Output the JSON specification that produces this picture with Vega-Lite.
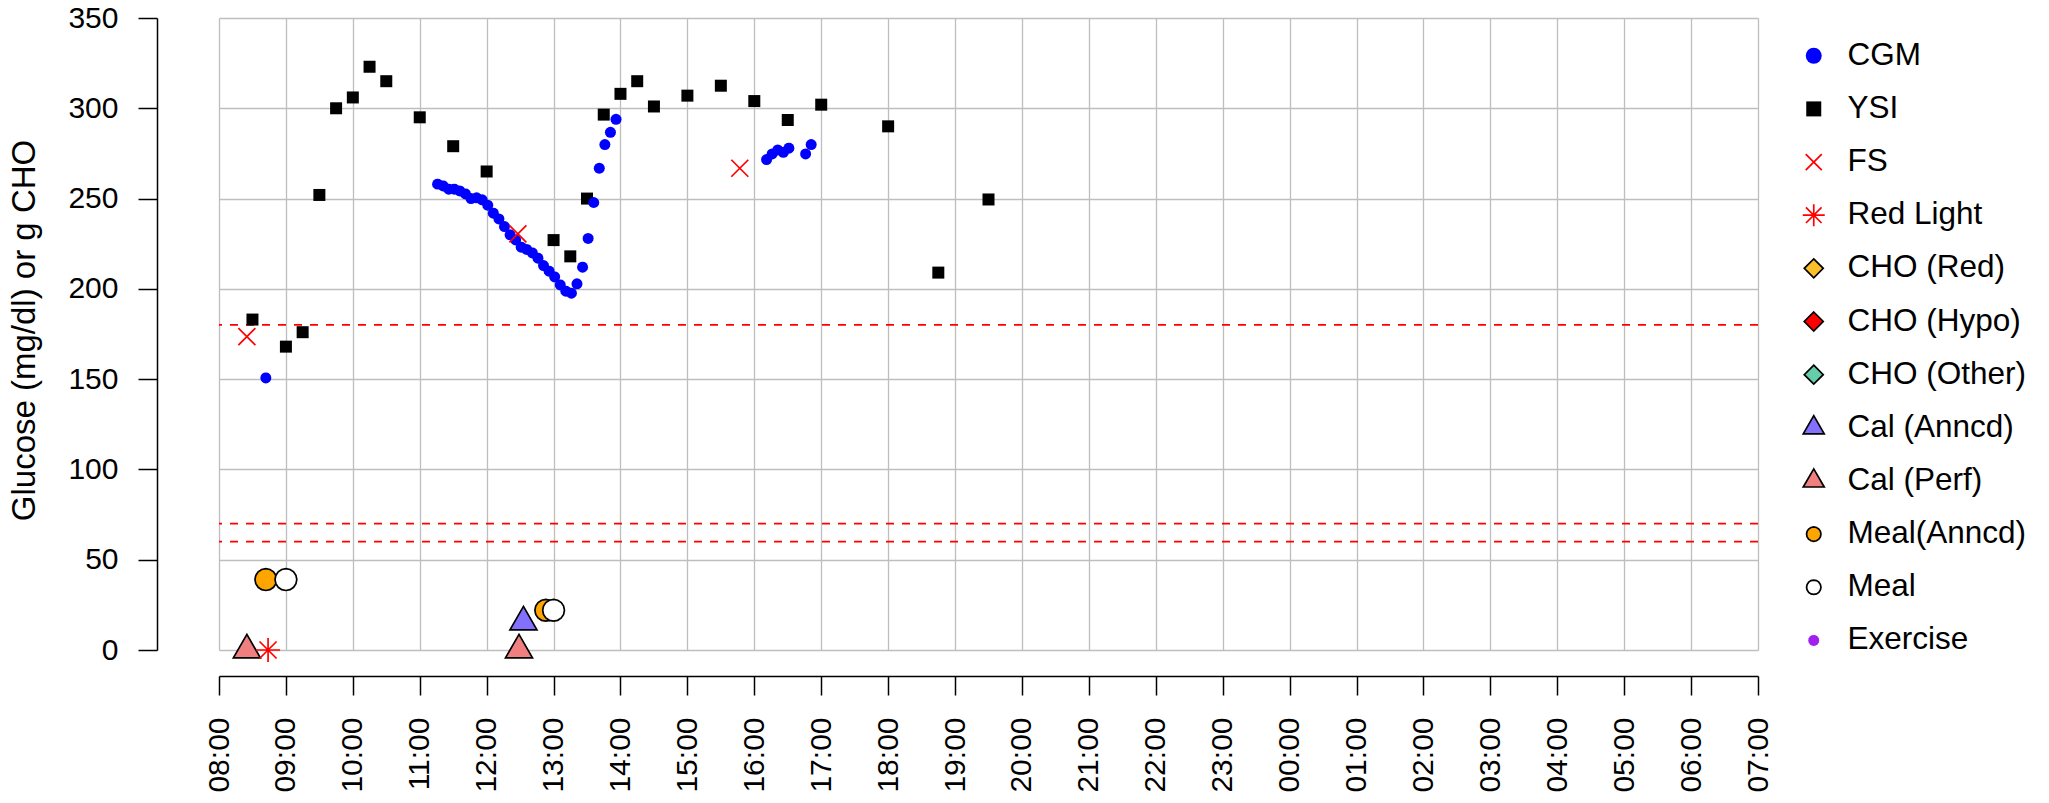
{
  "$schema": "https://vega.github.io/schema/vega-lite/v6.json",
  "width": 1539,
  "height": 632,
  "autosize": {"type": "none"},
  "padding": {"left": 219, "top": 18, "right": 291, "bottom": 153},
  "background": "white",
  "config": {
    "view": {"stroke": null},
    "font": "Liberation Sans",
    "legend": {"orient": "none", "legendX": 1579, "legendY": 22, "symbolSize": 400, "labelFontSize": 31.5, "labelColor": "black", "labelLimit": 0, "rowPadding": 20.15, "labelOffset": 18, "symbolStrokeWidth": 1.7}
  },
  "datasets": {
    "thr": [{"value": 180}, {"value": 70}, {"value": 60}],
    "obs": [
      {"series": "YSI", "time": "2020-01-01T08:30:00", "value": 183},
      {"series": "YSI", "time": "2020-01-01T09:00:00", "value": 168},
      {"series": "YSI", "time": "2020-01-01T09:15:00", "value": 176},
      {"series": "YSI", "time": "2020-01-01T09:30:00", "value": 252},
      {"series": "YSI", "time": "2020-01-01T09:45:00", "value": 300},
      {"series": "YSI", "time": "2020-01-01T10:00:00", "value": 306},
      {"series": "YSI", "time": "2020-01-01T10:15:00", "value": 323},
      {"series": "YSI", "time": "2020-01-01T10:30:00", "value": 315},
      {"series": "YSI", "time": "2020-01-01T11:00:00", "value": 295},
      {"series": "YSI", "time": "2020-01-01T11:30:00", "value": 279},
      {"series": "YSI", "time": "2020-01-01T12:00:00", "value": 265},
      {"series": "YSI", "time": "2020-01-01T13:00:00", "value": 227},
      {"series": "YSI", "time": "2020-01-01T13:15:00", "value": 218},
      {"series": "YSI", "time": "2020-01-01T13:30:00", "value": 250},
      {"series": "YSI", "time": "2020-01-01T13:45:00", "value": 296.5},
      {"series": "YSI", "time": "2020-01-01T14:00:00", "value": 308},
      {"series": "YSI", "time": "2020-01-01T14:15:00", "value": 315},
      {"series": "YSI", "time": "2020-01-01T14:30:00", "value": 301},
      {"series": "YSI", "time": "2020-01-01T15:00:00", "value": 307},
      {"series": "YSI", "time": "2020-01-01T15:30:00", "value": 312.5},
      {"series": "YSI", "time": "2020-01-01T16:00:00", "value": 304},
      {"series": "YSI", "time": "2020-01-01T16:30:00", "value": 293.5},
      {"series": "YSI", "time": "2020-01-01T17:00:00", "value": 302},
      {"series": "YSI", "time": "2020-01-01T18:00:00", "value": 290},
      {"series": "YSI", "time": "2020-01-01T18:45:00", "value": 209},
      {"series": "YSI", "time": "2020-01-01T19:30:00", "value": 249.5},
      {"series": "CGM", "time": "2020-01-01T08:42:00", "value": 150.7},
      {"series": "CGM", "time": "2020-01-01T11:16:00", "value": 258},
      {"series": "CGM", "time": "2020-01-01T11:21:00", "value": 257},
      {"series": "CGM", "time": "2020-01-01T11:26:00", "value": 255.2},
      {"series": "CGM", "time": "2020-01-01T11:31:00", "value": 255.2},
      {"series": "CGM", "time": "2020-01-01T11:36:00", "value": 254.2},
      {"series": "CGM", "time": "2020-01-01T11:41:00", "value": 252.6},
      {"series": "CGM", "time": "2020-01-01T11:46:00", "value": 250},
      {"series": "CGM", "time": "2020-01-01T11:51:00", "value": 250.4},
      {"series": "CGM", "time": "2020-01-01T11:56:00", "value": 249.3},
      {"series": "CGM", "time": "2020-01-01T12:01:00", "value": 246.3},
      {"series": "CGM", "time": "2020-01-01T12:06:00", "value": 241.9},
      {"series": "CGM", "time": "2020-01-01T12:11:00", "value": 238.7},
      {"series": "CGM", "time": "2020-01-01T12:16:00", "value": 234.5},
      {"series": "CGM", "time": "2020-01-01T12:21:00", "value": 229.9},
      {"series": "CGM", "time": "2020-01-01T12:26:00", "value": 227.1},
      {"series": "CGM", "time": "2020-01-01T12:31:00", "value": 223.1},
      {"series": "CGM", "time": "2020-01-01T12:36:00", "value": 221.8},
      {"series": "CGM", "time": "2020-01-01T12:41:00", "value": 219.9},
      {"series": "CGM", "time": "2020-01-01T12:46:00", "value": 217},
      {"series": "CGM", "time": "2020-01-01T12:51:00", "value": 212.9},
      {"series": "CGM", "time": "2020-01-01T12:56:00", "value": 209.8},
      {"series": "CGM", "time": "2020-01-01T13:01:00", "value": 206.6},
      {"series": "CGM", "time": "2020-01-01T13:06:00", "value": 202.2},
      {"series": "CGM", "time": "2020-01-01T13:11:00", "value": 198.7},
      {"series": "CGM", "time": "2020-01-01T13:16:00", "value": 197.6},
      {"series": "CGM", "time": "2020-01-01T13:21:00", "value": 202.8},
      {"series": "CGM", "time": "2020-01-01T13:26:00", "value": 212},
      {"series": "CGM", "time": "2020-01-01T13:31:00", "value": 227.9},
      {"series": "CGM", "time": "2020-01-01T13:36:00", "value": 247.8},
      {"series": "CGM", "time": "2020-01-01T13:41:00", "value": 266.8},
      {"series": "CGM", "time": "2020-01-01T13:46:00", "value": 279.9},
      {"series": "CGM", "time": "2020-01-01T13:51:00", "value": 286.7},
      {"series": "CGM", "time": "2020-01-01T13:56:00", "value": 293.9},
      {"series": "CGM", "time": "2020-01-01T16:11:00", "value": 271.6},
      {"series": "CGM", "time": "2020-01-01T16:16:00", "value": 274.7},
      {"series": "CGM", "time": "2020-01-01T16:21:00", "value": 276.9},
      {"series": "CGM", "time": "2020-01-01T16:26:00", "value": 275.6},
      {"series": "CGM", "time": "2020-01-01T16:31:00", "value": 277.9},
      {"series": "CGM", "time": "2020-01-01T16:46:00", "value": 274.7},
      {"series": "CGM", "time": "2020-01-01T16:51:00", "value": 279.9},
      {"series": "FS", "time": "2020-01-01T08:25:00", "value": 173.6},
      {"series": "FS", "time": "2020-01-01T12:28:00", "value": 230.4},
      {"series": "FS", "time": "2020-01-01T15:47:00", "value": 266.8},
      {"series": "Cal (Perf)", "time": "2020-01-01T08:25:00", "value": 0},
      {"series": "Cal (Perf)", "time": "2020-01-01T12:29:00", "value": 0},
      {"series": "Cal (Anncd)", "time": "2020-01-01T12:33:00", "value": 15.5},
      {"series": "Red Light", "time": "2020-01-01T08:44:00", "value": 0},
      {"series": "Meal(Anncd)", "time": "2020-01-01T08:42:00", "value": 39},
      {"series": "Meal(Anncd)", "time": "2020-01-01T12:53:00", "value": 22},
      {"series": "Meal", "time": "2020-01-01T09:00:00", "value": 39},
      {"series": "Meal", "time": "2020-01-01T13:00:00", "value": 22}
    ]
  },
  "layer": [
    {
      "data": {"name": "thr"},
      "mark": {"type": "rule", "color": "#FF0000", "strokeDash": [8, 8], "strokeWidth": 1.7},
      "encoding": {
        "y": {"field": "value", "type": "quantitative", "title": "Glucose (mg/dl) or g CHO"}
      }
    },
    {
      "data": {"name": "obs"},
      "encoding": {
        "x": {
          "field": "time", "type": "temporal", "title": null,
          "scale": {"domain": ["2020-01-01T08:00:00", "2020-01-02T07:00:00"], "nice": false},
          "axis": {
            "offset": 26, "tickSize": 19, "labelPadding": 22, "labelAngle": 270,
            "format": "%H:%M", "tickCount": 23,
            "labelFontSize": 30, "labelColor": "black", "labelFlush": false, "labelOverlap": false,
            "domainColor": "black", "domainWidth": 1.5, "tickColor": "black", "tickWidth": 1.5,
            "grid": true, "gridColor": "#BEBEBE", "gridWidth": 1.3
          }
        },
        "y": {
          "field": "value", "type": "quantitative", "title": "Glucose (mg/dl) or g CHO",
          "scale": {"domain": [0, 350], "nice": false, "zero": false},
          "axis": {
            "offset": 62, "tickSize": 19, "labelPadding": 20, "values": [0, 50, 100, 150, 200, 250, 300, 350],
            "labelFontSize": 30, "labelColor": "black", "labelFlush": false, "labelOverlap": false,
            "domainColor": "black", "domainWidth": 1.5, "tickColor": "black", "tickWidth": 1.5,
            "grid": true, "gridColor": "#BEBEBE", "gridWidth": 1.3,
            "titleFontSize": 33, "titleFontWeight": "normal", "titleColor": "black", "titlePadding": 26, "titleY": 312
          }
        },
        "shape": {
          "field": "series", "type": "nominal", "title": null,
          "scale": {
            "domain": ["CGM", "YSI", "FS", "Red Light", "CHO (Red)", "CHO (Hypo)", "CHO (Other)", "Cal (Anncd)", "Cal (Perf)", "Meal(Anncd)", "Meal", "Exercise"],
            "range": [
              "M0.8,0L0.739,0.306L0.566,0.566L0.306,0.739L0,0.8L-0.306,0.739L-0.566,0.566L-0.739,0.306L-0.8,0L-0.739,-0.306L-0.566,-0.566L-0.306,-0.739L0,-0.8L0.306,-0.739L0.566,-0.566L0.739,-0.306Z",
              "M-0.75,-0.75L0.75,-0.75L0.75,0.75L-0.75,0.75Z",
              "M-0.8,-0.8L0.8,0.8M-0.8,0.8L0.8,-0.8",
              "M-1.1,0L1.1,0M0,-1.1L0,1.1M-0.78,-0.78L0.78,0.78M-0.78,0.78L0.78,-0.78",
              "M0,-0.95L0.95,0L0,0.95L-0.95,0Z",
              "M0,-0.95L0.95,0L0,0.95L-0.95,0Z",
              "M0,-0.95L0.95,0L0,0.95L-0.95,0Z",
              "M0,-1.212L1.05,0.606L-1.05,0.606Z",
              "M0,-1.212L1.05,0.606L-1.05,0.606Z",
              "M0.72,0L0.665,0.276L0.509,0.509L0.276,0.665L0,0.72L-0.276,0.665L-0.509,0.509L-0.665,0.276L-0.72,0L-0.665,-0.276L-0.509,-0.509L-0.276,-0.665L0,-0.72L0.276,-0.665L0.509,-0.509L0.665,-0.276Z",
              "M0.72,0L0.665,0.276L0.509,0.509L0.276,0.665L0,0.72L-0.276,0.665L-0.509,0.509L-0.665,0.276L-0.72,0L-0.665,-0.276L-0.509,-0.509L-0.276,-0.665L0,-0.72L0.276,-0.665L0.509,-0.509L0.665,-0.276Z",
              "M0.55,0L0.508,0.21L0.389,0.389L0.21,0.508L0,0.55L-0.21,0.508L-0.389,0.389L-0.508,0.21L-0.55,0L-0.508,-0.21L-0.389,-0.389L-0.21,-0.508L0,-0.55L0.21,-0.508L0.389,-0.389L0.508,-0.21Z"
            ]
          }
        },
        "fill": {
          "field": "series", "type": "nominal", "title": null,
          "scale": {
            "domain": ["CGM", "YSI", "FS", "Red Light", "CHO (Red)", "CHO (Hypo)", "CHO (Other)", "Cal (Anncd)", "Cal (Perf)", "Meal(Anncd)", "Meal", "Exercise"],
            "range": ["#0000FF", "#000000", "transparent", "transparent", "#FBBF2A", "#FF0000", "#66CDAA", "#8470FF", "#F08080", "#FFA500", "#FFFFFF", "#A020F0"]
          }
        },
        "stroke": {
          "field": "series", "type": "nominal", "title": null,
          "scale": {
            "domain": ["CGM", "YSI", "FS", "Red Light", "CHO (Red)", "CHO (Hypo)", "CHO (Other)", "Cal (Anncd)", "Cal (Perf)", "Meal(Anncd)", "Meal", "Exercise"],
            "range": ["transparent", "transparent", "#FF0000", "#FF0000", "#000000", "#000000", "#000000", "#000000", "#000000", "#000000", "#000000", "transparent"]
          }
        }
      },
      "layer": [
        {"transform": [{"filter": "datum.series === 'YSI'"}], "mark": {"type": "point", "filled": true, "opacity": 1, "strokeWidth": 1.7, "size": 256}},
        {"transform": [{"filter": "datum.series === 'CGM'"}], "mark": {"type": "point", "filled": true, "opacity": 1, "strokeWidth": 1.7, "size": 189}},
        {"transform": [{"filter": "datum.series === 'FS'"}], "mark": {"type": "point", "filled": true, "opacity": 1, "strokeWidth": 1.7, "size": 452}},
        {"transform": [{"filter": "datum.series === 'Cal (Perf)' || datum.series === 'Cal (Anncd)'"}], "mark": {"type": "point", "filled": true, "opacity": 1, "strokeWidth": 1.7, "size": 661}},
        {"transform": [{"filter": "datum.series === 'Red Light'"}], "mark": {"type": "point", "filled": true, "opacity": 1, "strokeWidth": 1.7, "size": 476}},
        {"transform": [{"filter": "datum.series === 'Meal(Anncd)' || datum.series === 'Meal'"}], "mark": {"type": "point", "filled": true, "opacity": 1, "strokeWidth": 1.7, "size": 914}}
      ]
    }
  ]
}
